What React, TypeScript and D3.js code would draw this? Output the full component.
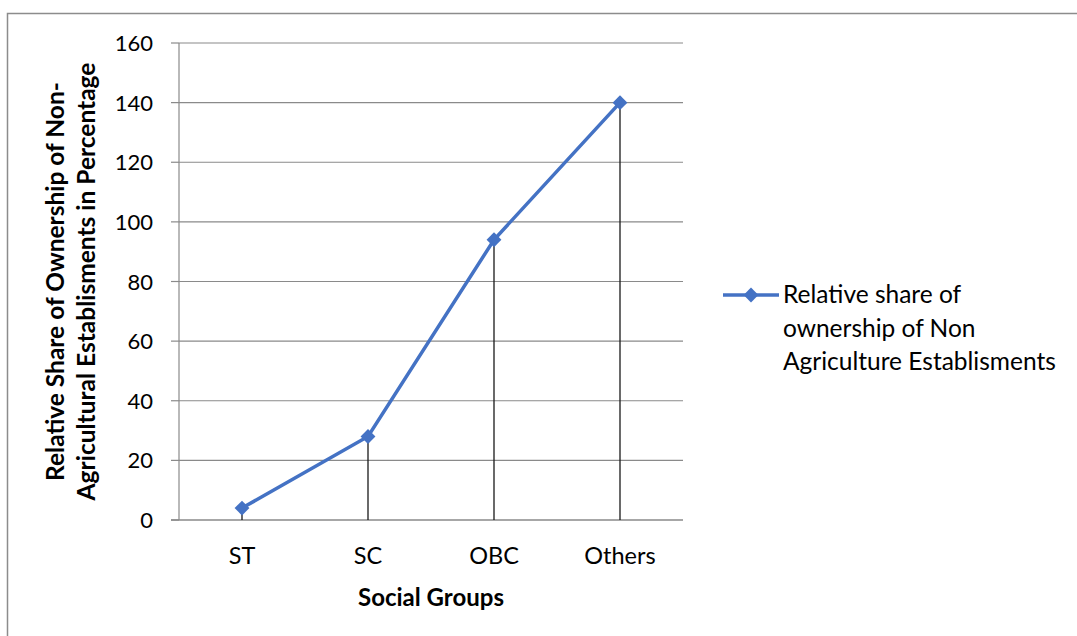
import React, { useRef, useEffect } from 'react';
import * as d3 from 'd3';

const groups = ['ST', 'SC', 'OBC', 'Others'];
const shares = [4, 28, 94, 140];
const yTicks = [0, 20, 40, 60, 80, 100, 120, 140, 160];
const seriesName = ['Relative share of', 'ownership of Non', 'Agriculture Establisments'];
const yTitle = ['Relative Share of Ownership of Non-', 'Agricultural Establisments in Percentage'];
const xTitle = 'Social Groups';

const FONT = 'Lato, "Open Sans", sans-serif';
const BLUE = '#4472C4';

const App: React.FC = () => {
  const svgRef = useRef<SVGSVGElement>(null);

  useEffect(() => {
    if (!svgRef.current) return;
    const svg = d3.select(svgRef.current);
    svg.selectAll('*').remove();

    const width = 1077;
    const height = 636;
    const left = 179, right = 683, top = 43, bottom = 520;

    svg.attr('width', width).attr('height', height)
      .style('position', 'absolute').style('left', 0).style('top', 0);

    svg.append('rect').attr('width', width).attr('height', height).attr('fill', '#fff');
    // chart border, runs off the right and bottom of the picture
    svg.append('rect')
      .attr('x', 7.5).attr('y', 13.5)
      .attr('width', width + 20).attr('height', height + 20)
      .attr('fill', 'none').attr('stroke', '#8c8c8c').attr('stroke-width', 1.5);

    const x = d3.scaleBand<string>().domain(groups).range([left, right]);
    const y = d3.scaleLinear().domain([0, 160]).range([bottom, top]);
    const cx = (i: number) => x(groups[i])! + x.bandwidth() / 2;

    const g = svg.append('g');

    g.selectAll('.grid')
      .data(yTicks.filter(t => t > 0))
      .enter().append('line')
      .attr('x1', left).attr('x2', right)
      .attr('y1', d => y(d)).attr('y2', d => y(d))
      .attr('stroke', '#8a8a8a').attr('stroke-width', 1.2);

    g.append('line')
      .attr('x1', left).attr('x2', left).attr('y1', top).attr('y2', bottom)
      .attr('stroke', '#8a8a8a').attr('stroke-width', 1.2);
    g.selectAll('.ytick')
      .data(yTicks)
      .enter().append('line')
      .attr('x1', left - 8).attr('x2', left)
      .attr('y1', d => y(d)).attr('y2', d => y(d))
      .attr('stroke', '#8a8a8a').attr('stroke-width', 1.2);
    g.selectAll('.ylab')
      .data(yTicks)
      .enter().append('text')
      .attr('x', left - 26).attr('y', d => y(d) + 8)
      .attr('text-anchor', 'end')
      .style('font-family', FONT).style('font-size', '22px').style('fill', '#000')
      .text(d => d);

    g.append('line')
      .attr('x1', left - 8).attr('x2', right).attr('y1', bottom).attr('y2', bottom)
      .attr('stroke', '#8a8a8a').attr('stroke-width', 1.5);

    g.selectAll('.xlab')
      .data(groups)
      .enter().append('text')
      .attr('x', d => x(d)! + x.bandwidth() / 2).attr('y', 564)
      .attr('text-anchor', 'middle')
      .style('font-family', FONT).style('font-size', '23.5px').style('fill', '#000')
      .text(d => d);

    // drop lines from each point to the axis
    g.selectAll('.drop')
      .data(shares)
      .enter().append('line')
      .attr('x1', (d, i) => cx(i)).attr('x2', (d, i) => cx(i))
      .attr('y1', d => y(d)).attr('y2', bottom)
      .attr('stroke', '#1a1a1a').attr('stroke-width', 1.3);

    const line = d3.line<number>()
      .x((d, i) => cx(i))
      .y(d => y(d));
    g.append('path')
      .datum(shares)
      .attr('d', line)
      .attr('fill', 'none')
      .attr('stroke', BLUE)
      .attr('stroke-width', 3.5);

    const diamond = d3.symbol().type(d3.symbolDiamond2).size(140);
    g.selectAll('.marker')
      .data(shares)
      .enter().append('path')
      .attr('d', diamond)
      .attr('transform', (d, i) => `translate(${cx(i)},${y(d)})`)
      .attr('fill', BLUE);

    g.append('text')
      .attr('x', (left + right) / 2).attr('y', 606)
      .attr('text-anchor', 'middle')
      .style('font-family', FONT).style('font-size', '24px').style('font-weight', 'bold')
      .text(xTitle);

    const yt = g.append('text')
      .attr('transform', `translate(64,${(top + bottom) / 2}) rotate(-90)`)
      .attr('text-anchor', 'middle')
      .style('font-family', FONT).style('font-size', '24.5px').style('font-weight', 'bold');
    yTitle.forEach((t, i) => {
      yt.append('tspan').attr('x', 0).attr('y', i * 31).text(t);
    });

    // legend
    const lg = g.append('g').attr('transform', 'translate(723,295)');
    lg.append('line').attr('x1', 0).attr('x2', 56).attr('y1', 0).attr('y2', 0)
      .attr('stroke', BLUE).attr('stroke-width', 3.5);
    lg.append('path').attr('d', diamond).attr('transform', 'translate(28,0)').attr('fill', BLUE);
    const lt = lg.append('text')
      .style('font-family', FONT).style('font-size', '24.5px').style('fill', '#000');
    seriesName.forEach((t, i) => {
      lt.append('tspan').attr('x', 60).attr('y', 8 + i * 33.5).text(t);
    });
  }, []);

  return <svg ref={svgRef}></svg>;
};

export default App;
